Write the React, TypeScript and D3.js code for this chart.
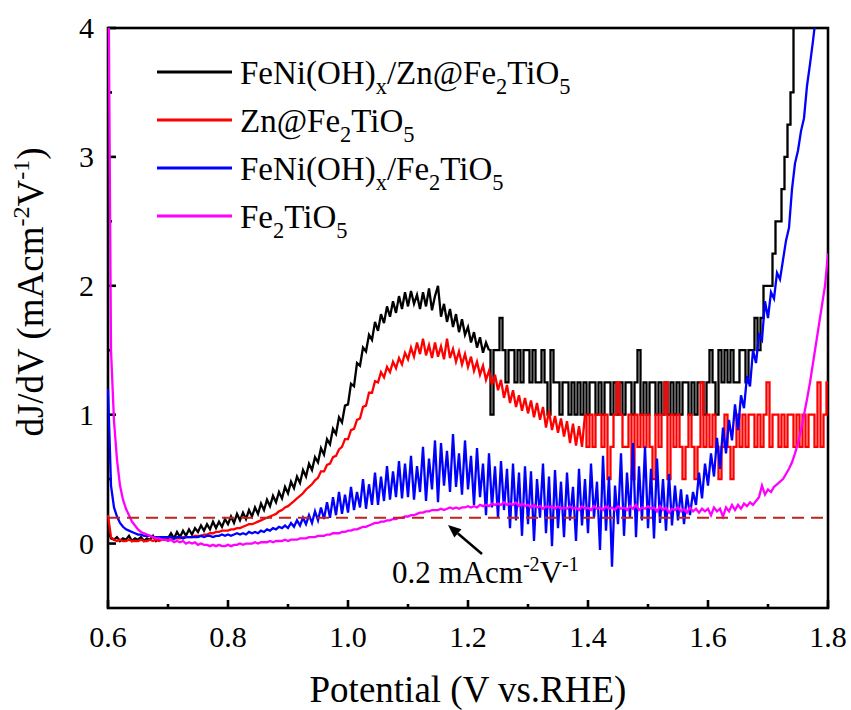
import React from "react";
import * as d3 from "d3";

// Sampled potential grid: V = V0 + i * DV
const V0 = 0.6;
const DV = 0.005;

const xTicks = [0.6, 0.8, 1.0, 1.2, 1.4, 1.6, 1.8];
const xMinor = [0.7, 0.9, 1.1, 1.3, 1.5, 1.7];
const yTicks = [0, 1, 2, 3, 4];
const yMinor = [0.5, 1.5, 2.5, 3.5];
const threshold = 0.2;

const seriesNames = [
  "FeNi(OH)x/Zn@Fe2TiO5",
  "Zn@Fe2TiO5",
  "FeNi(OH)x/Fe2TiO5",
  "Fe2TiO5",
];

const blackDJ = [
  0.10, 0.04, 0.03, 0.05, 0.02, 0.04, 0.03, 0.06, 0.02, 0.04,
  0.03, 0.05, 0.02, 0.04, 0.03, 0.06, 0.02, 0.04, 0.05, 0.03,
  0.04, 0.08, 0.04, 0.09, 0.05, 0.10, 0.06, 0.11, 0.07, 0.12,
  0.09, 0.14, 0.10, 0.15, 0.11, 0.17, 0.12, 0.17, 0.13, 0.19,
  0.15, 0.21, 0.16, 0.23, 0.18, 0.24, 0.19, 0.26, 0.21, 0.28,
  0.23, 0.31, 0.26, 0.34, 0.29, 0.37, 0.32, 0.40, 0.35, 0.44,
  0.39, 0.48, 0.43, 0.52, 0.47, 0.57, 0.52, 0.62, 0.57, 0.67,
  0.63, 0.74, 0.69, 0.81, 0.77, 0.89, 0.85, 0.98, 0.94, 1.07,
  1.08, 1.24, 1.22, 1.40, 1.38, 1.52, 1.49, 1.62, 1.58, 1.72,
  1.65, 1.78, 1.71, 1.84, 1.76, 1.88, 1.79, 1.92, 1.82, 1.95,
  1.84, 1.96, 1.86, 1.93, 1.82, 1.95, 1.84, 1.98, 1.81, 1.92,
  2.00, 1.76, 1.86, 1.72, 1.82, 1.68, 1.78, 1.64, 1.74, 1.62,
  1.68, 1.56, 1.64, 1.52, 1.60, 1.48, 1.56, 1.50, 1.00, 1.50,
  1.50, 1.75, 1.50, 1.25, 1.50, 1.50, 1.25, 1.50, 1.25, 1.50,
  1.50, 1.25, 1.50, 1.25, 1.25, 1.50, 1.25, 1.00, 1.50, 1.25,
  1.25, 1.00, 1.25, 1.25, 1.00, 1.25, 1.00, 1.25, 1.00, 1.25,
  1.00, 1.25, 1.25, 1.00, 1.25, 1.00, 1.25, 1.25, 1.00, 1.25,
  1.00, 1.25, 1.00, 1.25, 1.25, 1.00, 1.25, 1.50, 1.00, 1.25,
  1.00, 1.25, 1.25, 1.00, 1.25, 1.00, 1.25, 1.00, 1.25, 1.00,
  1.25, 1.00, 1.25, 1.25, 1.00, 1.25, 1.00, 1.25, 1.25, 1.00,
  1.25, 1.50, 1.25, 1.00, 1.50, 1.25, 1.50, 1.25, 1.50, 1.25,
  1.25, 1.50, 1.50, 1.25, 1.50, 1.50, 1.75, 1.50, 1.75, 2.00,
  2.00, 2.00, 2.25, 2.50, 2.50, 2.75, 3.00, 3.25, 3.50, 4.25,
  4.50,
];

const redDJ = [
  0.22, 0.05, 0.03, 0.02, 0.03, 0.02, 0.02, 0.03, 0.02, 0.02,
  0.02, 0.03, 0.02, 0.02, 0.03, 0.02, 0.03, 0.02, 0.03, 0.03,
  0.03, 0.03, 0.04, 0.04, 0.04, 0.05, 0.05, 0.05, 0.05, 0.06,
  0.06, 0.06, 0.07, 0.07, 0.08, 0.08, 0.09, 0.09, 0.10, 0.10,
  0.10, 0.11, 0.11, 0.12, 0.12, 0.13, 0.14, 0.15, 0.15, 0.16,
  0.17, 0.18, 0.19, 0.20, 0.21, 0.22, 0.23, 0.25, 0.26, 0.28,
  0.29, 0.31, 0.33, 0.35, 0.37, 0.39, 0.42, 0.44, 0.46, 0.49,
  0.51, 0.56, 0.56, 0.61, 0.62, 0.67, 0.68, 0.73, 0.75, 0.81,
  0.81, 0.88, 0.89, 0.96, 0.97, 1.06, 1.07, 1.17, 1.17, 1.26,
  1.25, 1.33, 1.29, 1.37, 1.33, 1.41, 1.36, 1.44, 1.39, 1.48,
  1.43, 1.52, 1.45, 1.56, 1.47, 1.59, 1.46, 1.54, 1.44, 1.56,
  1.45, 1.53, 1.43, 1.59, 1.44, 1.51, 1.41, 1.49, 1.39, 1.47,
  1.37, 1.45, 1.34, 1.41, 1.31, 1.38, 1.27, 1.34, 1.23, 1.31,
  1.19, 1.27, 1.13, 1.23, 1.09, 1.19, 1.06, 1.15, 1.03, 1.13,
  1.01, 1.11, 0.98, 1.09, 0.96, 1.06, 0.90, 1.03, 0.88, 0.99,
  0.86, 0.97, 0.83, 0.95, 0.78, 0.93, 0.76, 0.91, 0.75, 1.00,
  0.75, 1.00, 0.75, 1.00, 1.00, 0.75, 1.00, 0.50, 0.75, 1.00,
  1.25, 1.00, 0.75, 0.75, 1.00, 0.50, 1.00, 0.75, 1.00, 0.75,
  1.00, 0.75, 0.50, 1.00, 0.75, 1.00, 1.25, 0.50, 1.00, 0.75,
  1.00, 0.75, 0.50, 0.75, 1.00, 0.75, 0.50, 0.75, 1.25, 0.75,
  1.00, 0.75, 1.00, 0.75, 0.50, 0.75, 1.00, 0.75, 0.50, 0.75,
  1.00, 0.75, 1.00, 0.75, 1.00, 1.00, 0.75, 1.00, 0.75, 1.00,
  1.25, 0.75, 1.00, 1.00, 0.75, 1.00, 0.75, 1.00, 1.00, 0.75,
  1.00, 0.75, 1.00, 0.75, 1.00, 1.00, 0.75, 1.25, 0.75, 1.00,
  1.25,
];

const blueDJ = [
  1.20, 0.45, 0.28, 0.21, 0.16, 0.13, 0.11, 0.10, 0.09, 0.08,
  0.07, 0.07, 0.06, 0.06, 0.06, 0.05, 0.05, 0.05, 0.05, 0.05,
  0.05, 0.05, 0.04, 0.05, 0.05, 0.04, 0.05, 0.05, 0.05, 0.05,
  0.05, 0.06, 0.05, 0.06, 0.06, 0.05, 0.06, 0.06, 0.07, 0.06,
  0.07, 0.06, 0.07, 0.08, 0.07, 0.08, 0.07, 0.09, 0.08, 0.09,
  0.08, 0.10, 0.09, 0.11, 0.10, 0.12, 0.11, 0.13, 0.12, 0.14,
  0.12, 0.16, 0.13, 0.18, 0.14, 0.20, 0.15, 0.22, 0.16, 0.25,
  0.18, 0.28, 0.19, 0.32, 0.20, 0.36, 0.22, 0.40, 0.23, 0.38,
  0.24, 0.44, 0.26, 0.40, 0.28, 0.50, 0.27, 0.46, 0.30, 0.55,
  0.30, 0.52, 0.33, 0.60, 0.34, 0.56, 0.36, 0.64, 0.35, 0.62,
  0.36, 0.68, 0.34, 0.60, 0.40, 0.75, 0.33, 0.66, 0.42, 0.80,
  0.32, 0.78, 0.45, 0.72, 0.40, 0.85, 0.44, 0.70, 0.38, 0.80,
  0.42, 0.68, 0.30, 0.74, 0.36, 0.62, 0.22, 0.70, 0.28, 0.60,
  0.20, 0.64, 0.26, 0.58, 0.12, 0.62, 0.18, 0.55, 0.06, 0.60,
  0.15, 0.56, 0.02, 0.50, 0.20, 0.62, 0.08, 0.52, -0.02, 0.57,
  0.12, 0.48, 0.05, 0.55, 0.18, 0.44, 0.02, 0.58, 0.14, 0.50,
  0.08, 0.62, 0.20, 0.48, -0.05, 0.68, 0.10, 0.52, -0.18, 0.45,
  0.15, 0.70, 0.06, 0.55, 0.20, 0.78, 0.05, 0.60, 0.18, 0.75,
  0.12, 0.58, 0.04, 0.66, 0.16, 0.50, 0.10, 0.54, 0.14, 0.45,
  0.18, 0.42, 0.15, 0.38, 0.22, 0.40, 0.30, 0.55, 0.35, 0.62,
  0.45, 0.70, 0.52, 0.82, 0.58, 0.90, 0.70, 0.96, 0.80, 1.08,
  0.88, 1.15, 1.05, 1.30, 1.22, 1.50, 1.40, 1.62, 1.58, 1.88,
  1.75, 1.95, 1.90, 2.10, 2.05, 2.20, 2.35, 2.45, 2.75, 2.95,
  3.05, 3.20, 3.30, 3.55, 3.72, 3.90, 4.10,
];

const magentaDJ = [
  5.00, 1.50, 0.95, 0.65, 0.45, 0.34, 0.27, 0.22, 0.17, 0.14,
  0.11, 0.09, 0.08, 0.07, 0.06, 0.05, 0.04, 0.04, 0.03, 0.03,
  0.02, 0.03, 0.01, 0.02, 0.01, 0.02, 0.00, 0.01, 0.00, 0.01,
  -0.01, 0.00, -0.01, -0.01, -0.02, -0.01, -0.02, -0.01, -0.02, -0.02,
  -0.01, -0.02, -0.01, -0.01, 0.00, -0.01, 0.00, 0.00, 0.00, 0.01,
  0.00, 0.01, 0.01, 0.01, 0.02, 0.01, 0.02, 0.02, 0.02, 0.03,
  0.02, 0.03, 0.03, 0.03, 0.04, 0.04, 0.04, 0.05, 0.05, 0.05,
  0.06, 0.06, 0.06, 0.07, 0.07, 0.08, 0.08, 0.08, 0.09, 0.09,
  0.10, 0.10, 0.11, 0.11, 0.12, 0.13, 0.13, 0.14, 0.15, 0.16,
  0.16, 0.17, 0.17, 0.18, 0.18, 0.19, 0.19, 0.20, 0.20, 0.21,
  0.21, 0.22, 0.22, 0.23, 0.24, 0.24, 0.25, 0.25, 0.26, 0.26,
  0.26, 0.27, 0.26, 0.27, 0.28, 0.27, 0.28, 0.27, 0.28, 0.28,
  0.29, 0.28, 0.29, 0.28, 0.30, 0.29, 0.30, 0.29, 0.31, 0.30,
  0.31, 0.30, 0.32, 0.30, 0.31, 0.30, 0.32, 0.29, 0.31, 0.29,
  0.30, 0.28, 0.30, 0.28, 0.29, 0.27, 0.29, 0.28, 0.29, 0.27,
  0.29, 0.27, 0.28, 0.27, 0.29, 0.27, 0.28, 0.26, 0.29, 0.27,
  0.28, 0.26, 0.29, 0.27, 0.28, 0.26, 0.29, 0.27, 0.28, 0.26,
  0.29, 0.27, 0.28, 0.26, 0.29, 0.27, 0.30, 0.26, 0.28, 0.27,
  0.29, 0.27, 0.28, 0.25, 0.29, 0.26, 0.28, 0.24, 0.27, 0.26,
  0.28, 0.25, 0.27, 0.24, 0.28, 0.25, 0.27, 0.24, 0.27, 0.25,
  0.27, 0.22, 0.28, 0.25, 0.27, 0.21, 0.28, 0.25, 0.30, 0.26,
  0.30, 0.27, 0.31, 0.29, 0.32, 0.30, 0.33, 0.36, 0.45, 0.38,
  0.42, 0.40, 0.44, 0.46, 0.48, 0.50, 0.54, 0.58, 0.63, 0.70,
  0.78, 0.88, 1.00, 1.12, 1.25, 1.40, 1.55, 1.70, 1.85, 2.00,
  2.25,
];

const seriesColors = ["#000000", "#ff0000", "#0000ff", "#ff00ff"];
const seriesValues = [blackDJ, redDJ, blueDJ, magentaDJ];
// index from which the (quantised) signal is drawn as steps; -1 = never
const seriesStepFrom = [127, 159, -1, -1];

type Seg = [string, "sub" | "sup" | undefined];

const legendLabels: Seg[][] = [
  [["FeNi(OH)", undefined], ["x", "sub"], ["/Zn@Fe", undefined], ["2", "sub"], ["TiO", undefined], ["5", "sub"]],
  [["Zn@Fe", undefined], ["2", "sub"], ["TiO", undefined], ["5", "sub"]],
  [["FeNi(OH)", undefined], ["x", "sub"], ["/Fe", undefined], ["2", "sub"], ["TiO", undefined], ["5", "sub"]],
  [["Fe", undefined], ["2", "sub"], ["TiO", undefined], ["5", "sub"]],
];

const W = 851;
const H = 710;
const L = 108;
const R = 828;
const T = 28;
const B = 608;
const FONT = "'Liberation Serif', 'Times New Roman', serif";

function RichText({ segs, size, x, y, anchor, subScale }: { segs: Seg[]; size: number; x: number; y: number; anchor?: string; subScale?: number }) {
  let cur = 0;
  const sc = subScale || 0.65;
  return (
    <text x={x} y={y} fontSize={size} fontFamily={FONT} textAnchor={anchor || "start"} fill="#000">
      {segs.map((s, i) => {
        const target = s[1] === "sub" ? size * 0.3 : s[1] === "sup" ? -size * 0.38 : 0;
        const dy = target - cur;
        cur = target;
        return (
          <tspan key={i} dy={dy} fontSize={s[1] ? size * sc : size}>
            {s[0]}
          </tspan>
        );
      })}
    </text>
  );
}

export default function App() {
  const x = d3.scaleLinear().domain([0.6, 1.8]).range([L, R]);
  const y = d3.scaleLinear().domain([-0.5, 4]).range([B, T]);

  const paths: { d: string; color: string }[] = [];
  seriesValues.forEach((vals, k) => {
    const pts: [number, number][] = vals.map((v, i) => [V0 + i * DV, v]);
    const lin = d3.line<[number, number]>().x((d) => x(d[0])).y((d) => y(d[1])).curve(d3.curveLinear);
    const stp = d3.line<[number, number]>().x((d) => x(d[0])).y((d) => y(d[1])).curve(d3.curveStep);
    const s = seriesStepFrom[k];
    if (s < 0) {
      paths.push({ d: lin(pts) || "", color: seriesColors[k] });
    } else {
      paths.push({ d: lin(pts.slice(0, s + 1)) || "", color: seriesColors[k] });
      paths.push({ d: stp(pts.slice(s)) || "", color: seriesColors[k] });
    }
  });

  const major = 8;
  const minor = 4;

  const arrowTip: [number, number] = [448, 525];
  const arrowTail: [number, number] = [482, 554];
  const ang = Math.atan2(arrowTip[1] - arrowTail[1], arrowTip[0] - arrowTail[0]);
  const ah = 13;
  const aw = 5.5;
  const bx = arrowTip[0] - ah * Math.cos(ang);
  const by = arrowTip[1] - ah * Math.sin(ang);
  const headPts = [
    [arrowTip[0], arrowTip[1]],
    [bx + aw * Math.sin(ang), by - aw * Math.cos(ang)],
    [bx - aw * Math.sin(ang), by + aw * Math.cos(ang)],
  ]
    .map((p) => p.join(","))
    .join(" ");

  return (
    <svg
      width={W}
      height={H}
      viewBox={`0 0 ${W} ${H}`}
      style={{ position: "absolute", left: 0, top: 0, background: "#fff" }}
    >
      <defs>
        <clipPath id="plotClip">
          <rect x={L - 1} y={T} width={R - L + 1} height={B - T} />
        </clipPath>
      </defs>
      <rect x={0} y={0} width={W} height={H} fill="#fff" />

      {/* frame */}
      <rect x={L} y={T} width={R - L} height={B - T} fill="none" stroke="#000" strokeWidth={2.6} />

      {/* x ticks */}
      {xTicks.map((t) => (
        <g key={"xt" + t}>
          <line x1={x(t)} x2={x(t)} y1={B} y2={B - major} stroke="#000" strokeWidth={2.6} />
          <text x={x(t)} y={647} fontSize={30} fontFamily={FONT} textAnchor="middle">
            {t.toFixed(1)}
          </text>
        </g>
      ))}
      {xMinor.map((t) => (
        <line key={"xm" + t} x1={x(t)} x2={x(t)} y1={B} y2={B - minor} stroke="#000" strokeWidth={2.6} />
      ))}
      {/* y ticks */}
      {yTicks.map((t) => (
        <g key={"yt" + t}>
          <line x1={L} x2={L + major} y1={y(t)} y2={y(t)} stroke="#000" strokeWidth={2.6} />
          <text x={94} y={y(t) + 10} fontSize={30} fontFamily={FONT} textAnchor="end">
            {t}
          </text>
        </g>
      ))}
      {yMinor.map((t) => (
        <line key={"ym" + t} x1={L} x2={L + minor} y1={y(t)} y2={y(t)} stroke="#000" strokeWidth={2.6} />
      ))}

      {/* data */}
      <g clipPath="url(#plotClip)">
        {paths.map((p, k) => (
          <path key={k} d={p.d} fill="none" stroke={p.color} strokeWidth={2.3} strokeLinejoin="miter" />
        ))}
        <line
          x1={x(0.6)}
          x2={x(1.8)}
          y1={y(threshold)}
          y2={y(threshold)}
          stroke="#c0221c"
          strokeWidth={2}
          strokeDasharray="12,7"
        />
      </g>

      {/* legend */}
      {seriesNames.map((name, k) => {
        const ly = 72 + k * 48;
        return (
          <g key={name}>
            <line x1={157} x2={232} y1={ly} y2={ly} stroke={seriesColors[k]} strokeWidth={3} />
            <RichText segs={legendLabels[k]} size={33} x={240} y={ly + 12} subScale={0.68} />
          </g>
        );
      })}

      {/* annotation */}
      <line x1={arrowTail[0]} y1={arrowTail[1]} x2={bx} y2={by} stroke="#000" strokeWidth={2.5} />
      <polygon points={headPts} fill="#000" />
      <RichText
        segs={[["0.2 mAcm", undefined], ["-2", "sup"], ["V", undefined], ["-1", "sup"]]}
        size={31}
        x={392}
        y={583}
      />

      {/* axis titles */}
      <text x={(L + R) / 2} y={702} fontSize={37} fontFamily={FONT} textAnchor="middle">
        Potential (V vs.RHE)
      </text>
      <g transform="translate(43,292) rotate(-90)">
        <RichText
          segs={[["dJ/dV (mAcm", undefined], ["-2", "sup"], ["V", undefined], ["-1", "sup"], [")", undefined]]}
          size={37}
          x={0}
          y={0}
          anchor="middle"
        />
      </g>
    </svg>
  );
}
